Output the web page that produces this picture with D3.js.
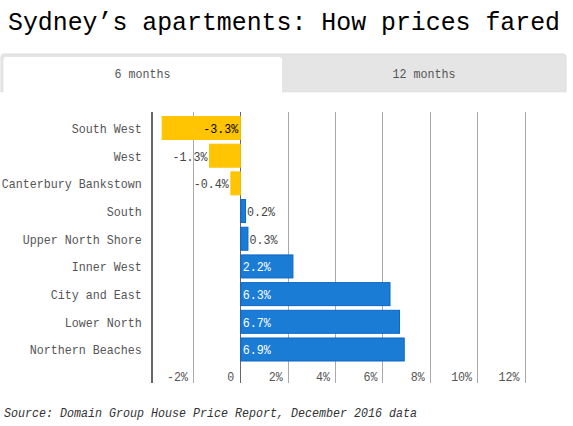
<!DOCTYPE html>
<html>
<head>
<meta charset="utf-8">
<script src="https://cdn.jsdelivr.net/npm/d3@7"></script>
<style>
  html, body { margin: 0; padding: 0; background: #fff; }
  svg { display: block; }
</style>
</head>
<body>
<svg id="chart" width="573" height="426"></svg>
<script>
const titleText = "Sydney\u2019s apartments: How prices fared";
const tabLabels = ["6 months", "12 months"];
const categories = ["South West", "West", "Canterbury Bankstown", "South", "Upper North Shore", "Inner West", "City and East", "Lower North", "Northern Beaches"];
const values = [-3.3, -1.3, -0.4, 0.2, 0.3, 2.2, 6.3, 6.7, 6.9];
const tickValues = [-2, 0, 2, 4, 6, 8, 10, 12];
const tickLabels = ["-2%", "0", "2%", "4%", "6%", "8%", "10%", "12%"];
const sourceText = "Source: Domain Group House Price Report, December 2016 data";

const font = "'Liberation Mono', 'DejaVu Sans Mono', monospace";
const fs = 12.4;
const charW = 7;
const svg = d3.select("#chart");

function fit(sel) {
  sel.attr("textLength", function() { return this.textContent.length * charW; })
     .attr("lengthAdjust", "spacingAndGlyphs");
}

// Title
svg.append("text")
  .attr("x", 8).attr("y", 30)
  .attr("font-family", font).attr("font-size", 24.9)
  .attr("textLength", 552).attr("lengthAdjust", "spacingAndGlyphs")
  .attr("fill", "#000")
  .text(titleText);

// Tabs
svg.append("path")
  .attr("d", "M1,92 L1,57 Q1,54 4,54 L563,54 Q566,54 566,57 L566,92 Z")
  .attr("fill", "#e5e5e5").attr("stroke", "#dcdcdc").attr("stroke-width", 1);
svg.append("path")
  .attr("d", "M3.5,93 L3.5,60 Q3.5,57 6.5,57 L279,57 Q282,57 282,60 L282,93 Z")
  .attr("fill", "#fff");
svg.append("rect").attr("x", 0).attr("y", 92.5).attr("width", 573).attr("height", 4).attr("fill", "#fff");

const tabCenters = [142.5, 424];
svg.selectAll("text.tab").data(tabLabels).join("text")
  .attr("class", "tab")
  .attr("x", (d, i) => tabCenters[i]).attr("y", 74)
  .attr("dy", "0.35em")
  .attr("text-anchor", "middle")
  .attr("font-family", font).attr("font-size", fs)
  .attr("fill", "#555")
  .text(d => d)
  .call(fit);

// Scales
const x = d3.scaleLinear().domain([-3.73, 12]).range([152, 524.5]);
const y = d3.scaleBand().domain(categories).range([116, 361.5]).paddingInner(0.133).paddingOuter(0);

const gridTop = 112, gridBottom = 383;

// Gridlines
svg.append("g").selectAll("line").data(tickValues).join("line")
  .attr("x1", d => Math.round(x(d)) + 0.5).attr("x2", d => Math.round(x(d)) + 0.5)
  .attr("y1", gridTop).attr("y2", gridBottom)
  .attr("stroke", d => d === 0 ? "#666" : "#aaa").attr("stroke-width", 1);

// Tick labels
svg.append("g").selectAll("text").data(tickValues).join("text")
  .attr("x", d => x(d) - (d === 0 ? 6 : 5)).attr("y", 377)
  .attr("dy", "0.35em")
  .attr("text-anchor", "end")
  .attr("font-family", font).attr("font-size", fs)
  .attr("fill", "#555")
  .text((d, i) => tickLabels[i])
  .call(fit);

// Left axis line
svg.append("line")
  .attr("x1", 152).attr("x2", 152).attr("y1", gridTop).attr("y2", gridBottom)
  .attr("stroke", "#666").attr("stroke-width", 2);

// Category labels
svg.append("g").selectAll("text").data(categories).join("text")
  .attr("x", 141.7).attr("y", d => y(d) + y.bandwidth() / 2 + 0.5)
  .attr("dy", "0.35em")
  .attr("text-anchor", "end")
  .attr("font-family", font).attr("font-size", fs)
  .attr("fill", "#555")
  .text(d => d)
  .call(fit);

const data = categories.map((c, i) => ({ cat: c, v: values[i] }));

// Bars
svg.append("g").selectAll("rect").data(data).join("rect")
  .attr("x", d => x(Math.min(0, d.v)) + (d.v > 0 ? 0.5 : 0))
  .attr("y", d => y(d.cat) + 0.5)
  .attr("width", d => Math.abs(x(d.v) - x(0)))
  .attr("height", y.bandwidth() - 1)
  .attr("fill", d => d.v < 0 ? "#ffc402" : "#1b7cd6")
  .attr("stroke", d => d.v < 0 ? "#ffc402" : "#0b66c8")
  .attr("stroke-width", 1);

// Value labels
svg.append("g").selectAll("text").data(data).join("text")
  .each(function(d) {
    const label = (d.v > 0 ? "" : "-") + Math.abs(d.v).toFixed(1) + "%";
    const w = label.length * charW;
    const barW = Math.abs(x(d.v) - x(0));
    const inside = barW >= w + 4;
    const t = d3.select(this);
    t.text(label)
      .attr("y", y(d.cat) + y.bandwidth() / 2 + 0.5)
      .attr("dy", "0.35em")
      .attr("font-family", font).attr("font-size", fs);
    if (d.v < 0) {
      t.attr("text-anchor", "end")
        .attr("x", inside ? x(0) - 2 : x(d.v) - 2)
        .attr("fill", inside ? "#000" : "#444");
    } else {
      t.attr("text-anchor", "start")
        .attr("x", inside ? x(0) + 2.5 : x(d.v) + 2)
        .attr("fill", inside ? "#fff" : "#444");
    }
  })
  .call(fit);

// Source
svg.append("text")
  .attr("x", 4).attr("y", 413)
  .attr("dy", "0.35em")
  .attr("font-family", font).attr("font-size", fs)
  .attr("font-style", "italic")
  .attr("fill", "#333")
  .text(sourceText)
  .call(fit);
</script>
</body>
</html>
